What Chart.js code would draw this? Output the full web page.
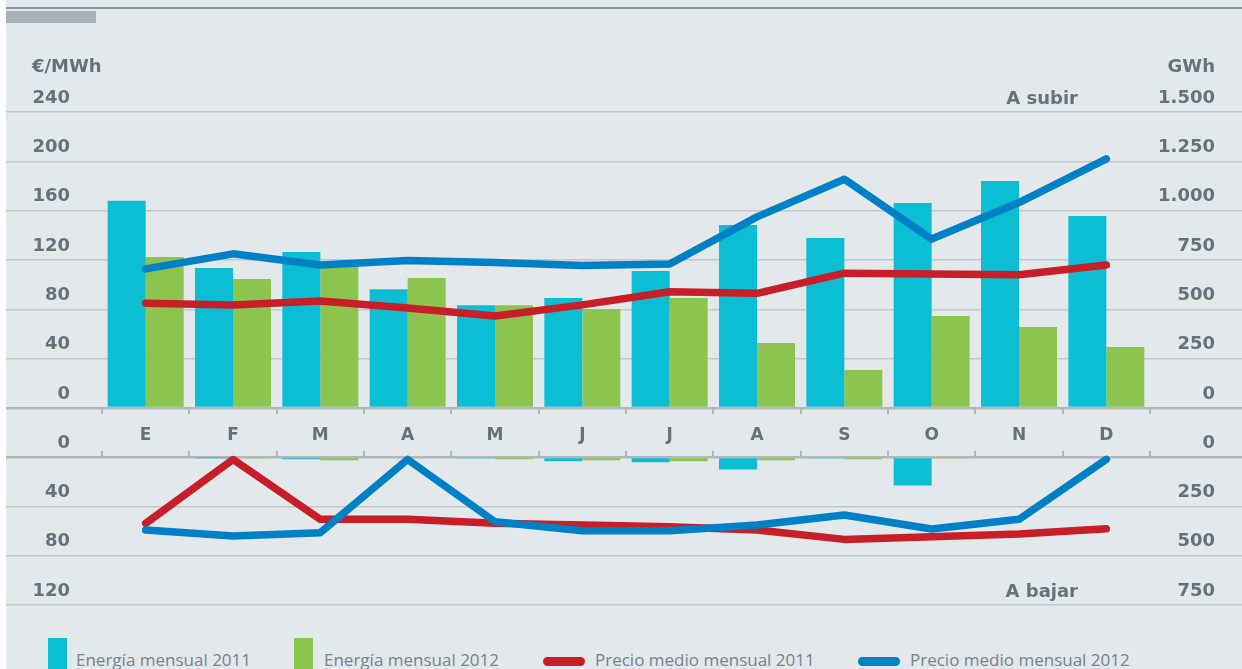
<!DOCTYPE html>
<html>
<head>
    <meta charset="UTF-8">
    <script src="https://cdn.jsdelivr.net/npm/chart.js@4.4.0/dist/chart.umd.min.js"></script>
    <title>Energía y precio mensual</title>
    <style>
        html, body { margin: 0; padding: 0; background: #fff; }
        #page { position: relative; width: 1242px; height: 669px; overflow: hidden; background: #fff; }
        #panel { position: absolute; left: 6px; top: 0; width: 1236px; height: 669px; background: #e3e8eb; }
        #topline { position: absolute; left: 6px; top: 7px; width: 1236px; height: 2px; background: #8a959c; }
        #tab { position: absolute; left: 6px; top: 11px; width: 90px; height: 12px; background: #a6b2ba; }
        .lbl { position: absolute; font: bold 18px 'DejaVu Sans', sans-serif; line-height: 20px; color: #65727b; white-space: nowrap; }
        .leg-text { position: absolute; font: 17px 'Open Sans', sans-serif; line-height: 20px; color: #77838b; white-space: nowrap; }
        .leg-box { position: absolute; }
        canvas { position: absolute; left: 0; }
        #upperChart { top: 0; }
        #lowerChart { top: 420px; }
    </style>
</head>
<body>
<div id="page">
    <div id="panel"></div>
    <div id="topline"></div>
    <div id="tab"></div>

    <canvas id="upperChart" width="1242" height="457"></canvas>
    <canvas id="lowerChart" width="1242" height="210"></canvas>

    <div class="lbl" style="left:32px; top:56px;">€/MWh</div>
    <div class="lbl" style="right:27px; top:56px;">GWh</div>
    <div class="lbl" style="right:164px; top:88px;">A subir</div>
    <div class="lbl" style="right:164px; top:581px;">A bajar</div>

    <div class="leg-box" style="left:48px; top:638px; width:19px; height:31px; background:#0cbed4;"></div>
    <div class="leg-text" style="left:76px; top:650px;">Energía mensual 2011</div>
    <div class="leg-box" style="left:294px; top:638px; width:19px; height:31px; background:#8bc54f;"></div>
    <div class="leg-text" style="left:324px; top:650px;">Energía mensual 2012</div>
    <div class="leg-box" style="left:543px; top:657px; width:42px; height:9px; border-radius:5px; background:#c81e27;"></div>
    <div class="leg-text" style="left:595px; top:650px;">Precio medio mensual 2011</div>
    <div class="leg-box" style="left:858px; top:657px; width:42px; height:9px; border-radius:5px; background:#0080c6;"></div>
    <div class="leg-text" style="left:910px; top:650px;">Precio medio mensual 2012</div>
</div>

<script>
    const months = ['E', 'F', 'M', 'A', 'M', 'J', 'J', 'A', 'S', 'O', 'N', 'D'];

    // A subir (upper panel)
    const energia2011Subir = [1050, 710, 791, 602, 521, 557, 694, 927, 862, 1039, 1150, 973];
    const energia2012Subir = [765, 654, 716, 659, 521, 502, 557, 329, 193, 466, 410, 309];
    const precio2011Subir = [85, 83.6, 86.8, 81, 74.6, 83.6, 94.3, 93, 109.3, 108.7, 108, 116];
    const precio2012Subir = [112.8, 125, 116, 119.5, 117.9, 115.5, 116.8, 155, 185.5, 137, 166.6, 202];

    // A bajar (lower panel)
    const energia2011Bajar = [0, 2, 12, 0, 7, 22, 27, 63, 8, 144, 0, 0];
    const energia2012Bajar = [0, 5, 17, 0, 12, 17, 22, 17, 12, 8, 0, 0];
    const precio2011Bajar = [53.8, 2, 50.5, 50.5, 53.8, 55.2, 56.5, 59.2, 66.8, 64.6, 62.5, 58.2];
    const precio2012Bajar = [59.2, 64, 61.4, 2, 52.5, 59.8, 59.8, 55.2, 47, 58.4, 50.5, 2];

    const cyan = '#0cbed4';
    const green = '#8bc54f';
    const red = '#c81e27';
    const blue = '#0080c6';
    const textColor = '#65727b';
    const gridColor = '#c3c7ca';
    const zeroColor = '#b3b7ba';
    const tickFont = { family: 'DejaVu Sans', size: 18, weight: 'bold' };

    function fmt(v) {
        return v.toLocaleString('de-DE');
    }

    function barSet(data, color, axis) {
        return {
            type: 'bar',
            data: data,
            backgroundColor: color,
            yAxisID: axis,
            categoryPercentage: 0.87,
            barPercentage: 1,
            order: 2
        };
    }

    function lineSet(data, color, axis, order) {
        return {
            type: 'line',
            data: data,
            borderColor: color,
            backgroundColor: color,
            borderWidth: 7.5,
            borderCapStyle: 'round',
            borderJoinStyle: 'round',
            pointRadius: 0,
            tension: 0,
            clip: false,
            yAxisID: axis,
            order: order
        };
    }

    function lineColor(ctx) {
        return ctx.tick && ctx.tick.value === 0 ? zeroColor : gridColor;
    }

    function lineWidth(ctx) {
        return ctx.tick && ctx.tick.value === 0 ? 2.5 : 1.5;
    }

    function leftAxis(max, reverse) {
        return {
            position: 'left',
            min: 0,
            max: max,
            reverse: reverse,
            border: { display: false },
            grid: { color: lineColor, lineWidth: lineWidth, tickLength: 96 },
            ticks: {
                stepSize: 40,
                autoSkip: false,
                padding: -64,
                labelOffset: -14,
                color: textColor,
                font: tickFont
            },
            afterFit: axis => { axis.width = 102; }
        };
    }

    // labels right-aligned at the axis' right edge (1215), tick marks run on to the page edge
    function rightAxis(max, reverse) {
        return {
            position: 'right',
            min: 0,
            max: max,
            reverse: reverse,
            border: { display: false },
            grid: { drawOnChartArea: false, color: lineColor, lineWidth: lineWidth, tickLength: 92 },
            ticks: {
                stepSize: 250,
                autoSkip: false,
                crossAlign: 'far',
                padding: 0,
                labelOffset: -14,
                color: textColor,
                font: tickFont,
                callback: v => fmt(v)
            },
            afterFit: axis => { axis.width = 65; }
        };
    }

    const monthGrid = {
        offset: true,
        drawOnChartArea: false,
        tickLength: 6,
        color: zeroColor,
        lineWidth: 2
    };

    new Chart(document.getElementById('upperChart'), {
        type: 'bar',
        data: {
            labels: months,
            datasets: [
                lineSet(precio2012Subir, blue, 'precio', 0),
                lineSet(precio2011Subir, red, 'precio', 1),
                barSet(energia2011Subir, cyan, 'energia'),
                barSet(energia2012Subir, green, 'energia')
            ]
        },
        options: {
            responsive: false,
            animation: false,
            layout: { padding: { top: 112, left: 0, right: 27, bottom: 0 } },
            plugins: { legend: { display: false }, tooltip: { enabled: false } },
            scales: {
                x: {
                    position: 'bottom',
                    border: { display: false },
                    grid: monthGrid,
                    ticks: {
                        padding: 11,
                        maxRotation: 0,
                        autoSkip: false,
                        color: textColor,
                        font: { family: 'DejaVu Sans', size: 17, weight: 'bold' }
                    },
                    afterFit: axis => { axis.height = 49; }
                },
                precio: leftAxis(240, false),
                energia: rightAxis(1500, false)
            }
        }
    });

    new Chart(document.getElementById('lowerChart'), {
        type: 'bar',
        data: {
            labels: months,
            datasets: [
                lineSet(precio2012Bajar, blue, 'precio', 0),
                lineSet(precio2011Bajar, red, 'precio', 1),
                barSet(energia2011Bajar, cyan, 'energia'),
                barSet(energia2012Bajar, green, 'energia')
            ]
        },
        options: {
            responsive: false,
            animation: false,
            layout: { padding: { top: 0, left: 0, right: 27, bottom: 25 } },
            plugins: { legend: { display: false }, tooltip: { enabled: false } },
            scales: {
                x: {
                    position: 'top',
                    border: { display: false },
                    grid: monthGrid,
                    ticks: { display: false },
                    afterFit: axis => { axis.height = 37; }
                },
                precio: leftAxis(120, true),
                energia: rightAxis(750, true)
            }
        }
    });
</script>
</body>
</html>
